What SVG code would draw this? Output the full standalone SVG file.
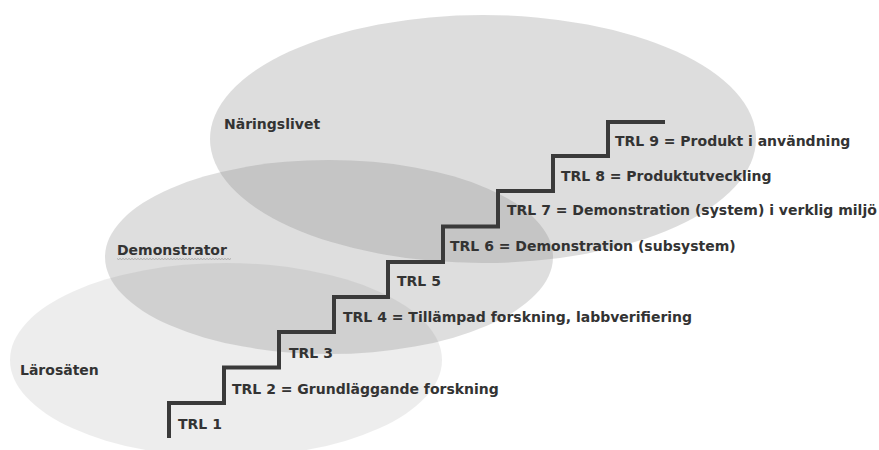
<svg xmlns="http://www.w3.org/2000/svg" width="879" height="450" viewBox="0 0 879 450">
  <style>
    .region { fill: #808080; }
    .lbl { font-family: "DejaVu Sans", Verdana, sans-serif; font-weight: bold; font-size: 14px; fill: #333333; }
    .stairs { fill: none; stroke: #3a3a3a; stroke-width: 4; stroke-linejoin: miter; stroke-linecap: butt; }
    .squiggle { fill: none; stroke: #9a9a9a; stroke-width: 0.8; }
  </style>
  <rect width="879" height="450" fill="#ffffff"/>
  <g id="larosaten">
    <ellipse class="region" cx="226" cy="360" rx="216" ry="97" fill-opacity="0.14"/>
    <text class="lbl" x="20" y="375">Lärosäten</text>
  </g>
  <g id="demonstrator">
    <ellipse class="region" cx="329" cy="257" rx="224" ry="97" fill-opacity="0.26"/>
    <text class="lbl" x="117" y="255">Demonstrator</text>
    <path class="squiggle" d="M117,258.5 l1.5,1 l1.5,-1 l1.5,1 l1.5,-1 l1.5,1 l1.5,-1 l1.5,1 l1.5,-1 l1.5,1 l1.5,-1 l1.5,1 l1.5,-1 l1.5,1 l1.5,-1 l1.5,1 l1.5,-1 l1.5,1 l1.5,-1 l1.5,1 l1.5,-1 l1.5,1 l1.5,-1 l1.5,1 l1.5,-1 l1.5,1 l1.5,-1 l1.5,1 l1.5,-1 l1.5,1 l1.5,-1 l1.5,1 l1.5,-1 l1.5,1 l1.5,-1 l1.5,1 l1.5,-1 l1.5,1 l1.5,-1 l1.5,1 l1.5,-1 l1.5,1 l1.5,-1 l1.5,1 l1.5,-1 l1.5,1 l1.5,-1 l1.5,1 l1.5,-1 l1.5,1 l1.5,-1 l1.5,1 l1.5,-1 l1.5,1 l1.5,-1 l1.5,1 l1.5,-1 l1.5,1 l1.5,-1 l1.5,1 l1.5,-1 l1.5,1 l1.5,-1 l1.5,1 l1.5,-1 l1.5,1 l1.5,-1 l1.5,1 l1.5,-1 l1.5,1 l1.5,-1 l1.5,1 l1.5,-1 l1.5,1 l1.5,-1 l1.5,1 l1.5,-1"/>
  </g>
  <g id="naringslivet">
    <ellipse class="region" cx="483" cy="139" rx="273" ry="124" fill-opacity="0.27"/>
    <text class="lbl" x="224" y="129">Näringslivet</text>
  </g>
  <g id="connectors">
    <path class="stairs" d="M169,438 V403 H224 V367.5 H279 V332 H334 V297 H388 V262 H443 V226.5 H498 V191 H553 V156 H608 V122 H665"/>
  </g>
  <g id="trl1"><text class="lbl" x="178" y="429">TRL 1</text></g>
  <g id="trl2"><text class="lbl" x="232" y="394">TRL 2 = Grundläggande forskning</text></g>
  <g id="trl3"><text class="lbl" x="289" y="358">TRL 3</text></g>
  <g id="trl4"><text class="lbl" x="343" y="322">TRL 4 = Tillämpad forskning, labbverifiering</text></g>
  <g id="trl5"><text class="lbl" x="397" y="286">TRL 5</text></g>
  <g id="trl6"><text class="lbl" x="450" y="251">TRL 6 = Demonstration (subsystem)</text></g>
  <g id="trl7"><text class="lbl" x="507" y="215">TRL 7 = Demonstration (system) i verklig miljö</text></g>
  <g id="trl8"><text class="lbl" x="561" y="181">TRL 8 = Produktutveckling</text></g>
  <g id="trl9"><text class="lbl" x="615" y="146">TRL 9 = Produkt i användning</text></g>
</svg>
